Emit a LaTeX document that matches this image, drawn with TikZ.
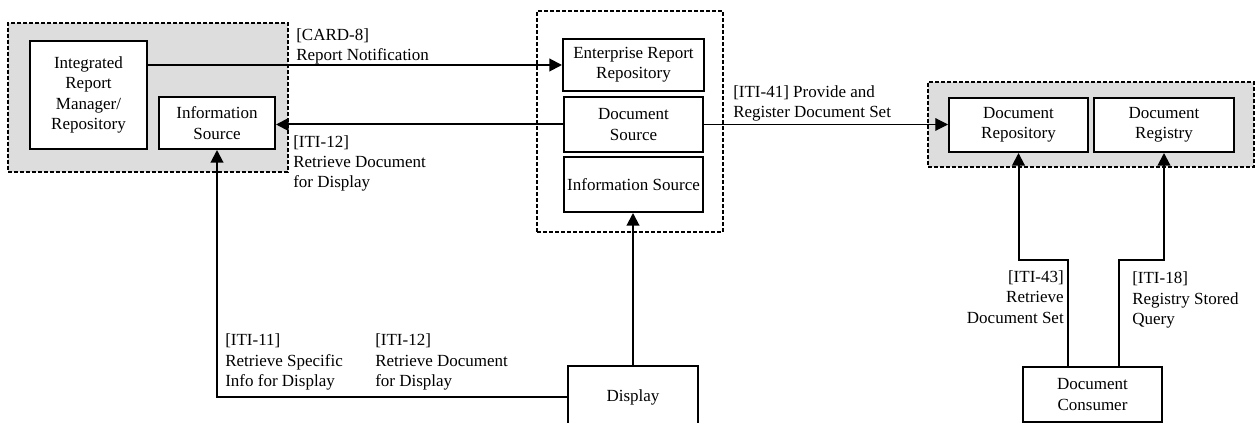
\documentclass[tikz,border=0pt]{standalone}
\usepackage{fontspec}
\setmainfont{Liberation Serif}
\usetikzlibrary{arrows.meta}
\definecolor{grpgray}{RGB}{221,221,221}

\begin{document}
\begin{tikzpicture}[x=0.75pt,y=-0.75pt,
  font=\fontsize{12.75}{15.25}\selectfont,
  actor/.style={draw,line width=1.5pt,fill=white,align=center,inner sep=1pt},
  group/.style={draw,line width=1.4pt,dash pattern=on 3pt off 1.5pt},
  flow/.style={line width=1.5pt,-{Triangle[length=9.5pt,width=9.5pt]}},
  lbl/.style={align=left,inner sep=0pt}]
\useasboundingbox (0,0) rectangle (1257,423);

\node[group,fill=grpgray,minimum width=210pt,minimum height=111.75pt] (lgrp) at (148,97.5) {};
\node[group,fill=white,minimum width=139.5pt,minimum height=165.75pt] (cgrp) at (630,121.5) {};
\node[group,fill=grpgray,minimum width=244.5pt,minimum height=63.75pt] (rgrp) at (1091,124.5) {};

\node[actor,minimum width=87.75pt,minimum height=81pt] (irm) at (88.5,95) {Integrated\\Report\\Manager/\\Repository};
\node[actor,minimum width=87pt,minimum height=39pt] (infoL) at (217,123) {Information\\Source};
\node[actor,minimum width=105.75pt,minimum height=39pt] (err) at (633.5,65) {Enterprise Report\\Repository};
\node[actor,minimum width=104.25pt,minimum height=41.25pt] (dsrc) at (633.5,124.5) {Document\\Source};
\node[actor,minimum width=104.25pt,minimum height=41.25pt,inner sep=0pt] (infoC) at (633.5,184.5) {Information Source};
\node[actor,minimum width=104.25pt,minimum height=40.5pt] (drep) at (1018.5,125) {Document\\Repository};
\node[actor,minimum width=105pt,minimum height=40.5pt] (dreg) at (1164,125) {Document\\Registry};
\node[actor,minimum width=97.5pt,minimum height=46.5pt] (disp) at (633,397) {Display};
\node[actor,minimum width=104.25pt,minimum height=41.25pt] (cons) at (1092.5,394.5) {Document\\Consumer};

\draw[flow] (irm.east |- err.west) -- (err.west);
\draw[flow] (dsrc.west) -- (infoL.east |- dsrc.west);
\draw[flow,line width=0.8pt] (dsrc.east) -- (drep.west |- dsrc.east);
\draw[flow] (disp.north) -- (disp.north |- infoC.south);
\draw[flow] (disp.west) -| (infoL.south);
\coordinate (b43) at (1068,260);
\coordinate (b18) at (1119,260);
\draw[flow] (b43 |- cons.north) -- (b43) -| (drep.south);
\draw[flow] (b18 |- cons.north) -- (b18) -| (dreg.south);

\node[lbl,anchor=west] (lcard) at (296,46.5) {[CARD-8]\\Report Notification};
\node[lbl,anchor=west] (l12a) at (293,163.5) {[ITI-12]\\Retrieve Document\\for Display};
\node[lbl,anchor=west] (l41) at (733,103.5) {[ITI-41] Provide and\\Register Document Set};
\node[lbl,anchor=east,align=right] (l43) at (1064,297) {[ITI-43]\\Retrieve\\Document Set};
\node[lbl,anchor=west] (l18) at (1132,300) {[ITI-18]\\Registry Stored\\Query};
\node[lbl,anchor=west] (l11) at (225,362) {[ITI-11]\\Retrieve Specific\\Info for Display};
\node[lbl,anchor=west] (l12b) at (375,362) {[ITI-12]\\Retrieve Document\\for Display};
\end{tikzpicture}
\end{document}
